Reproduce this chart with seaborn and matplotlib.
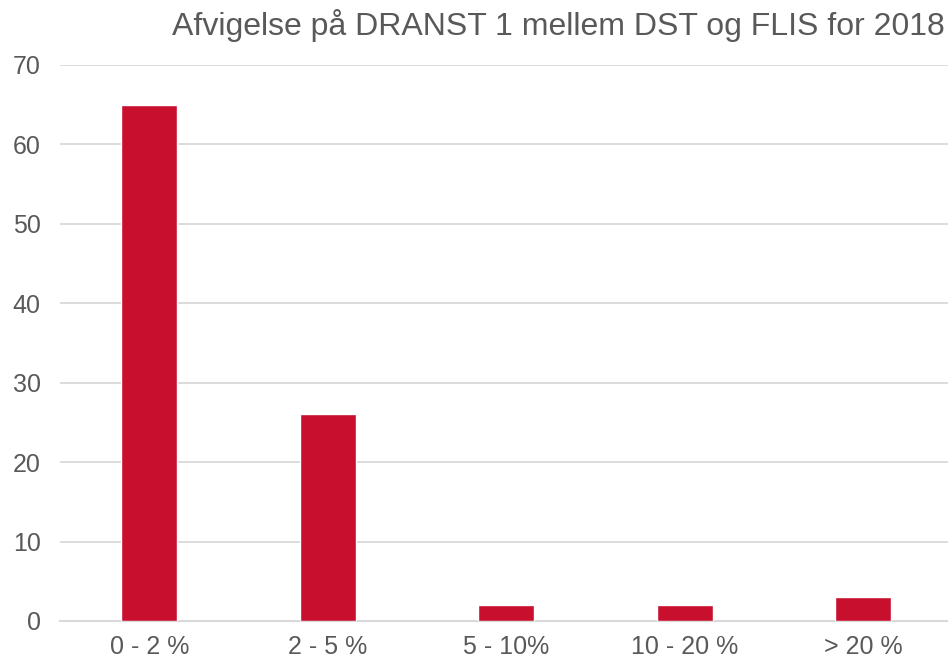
import matplotlib
matplotlib.use("Agg")
import matplotlib.pyplot as plt
import seaborn as sns
import pandas as pd

categories = ["0 - 2 %", "2 - 5 %", "5 - 10%", "10 - 20 %", "> 20 %"]
counts = [65, 26, 2, 2, 3]
y_ticks = [0, 10, 20, 30, 40, 50, 60, 70]
title = "Afvigelse på DRANST 1 mellem DST og FLIS for 2018"

sns.set_theme(style="white")
plt.rcParams['font.family'] = ['Liberation Sans', 'DejaVu Sans']

df = pd.DataFrame({'interval': categories, 'antal': counts})

fig = plt.figure(figsize=(9.48, 6.61), dpi=100)
ax = fig.add_axes([60 / 948, 40 / 661, 888 / 948, 556 / 661])

sns.barplot(data=df, x='interval', y='antal', color='#C8102E', width=0.314,
            saturation=1, ax=ax, zorder=3)

ax.set_xlim(-0.5, 4.476)
ax.set_ylim(0, 70)
ax.set_yticks(y_ticks)
ax.yaxis.grid(True, color='#D9D9D9', linewidth=1.3, zorder=0)
ax.set_axisbelow(True)
for s in ['top', 'right', 'left']:
    ax.spines[s].set_visible(False)
ax.spines['bottom'].set_color('#D9D9D9')
ax.spines['bottom'].set_linewidth(1.5)
ax.tick_params(axis='both', length=0, labelsize=18, colors='#595959')
ax.tick_params(axis='y', pad=14)
ax.tick_params(axis='x', pad=10)
ax.set_xlabel('')
ax.set_ylabel('')

fig.text(0.997, 0.961, title, ha='right', va='center', fontsize=23, color='#595959')

fig.savefig('out.png', dpi=100)
